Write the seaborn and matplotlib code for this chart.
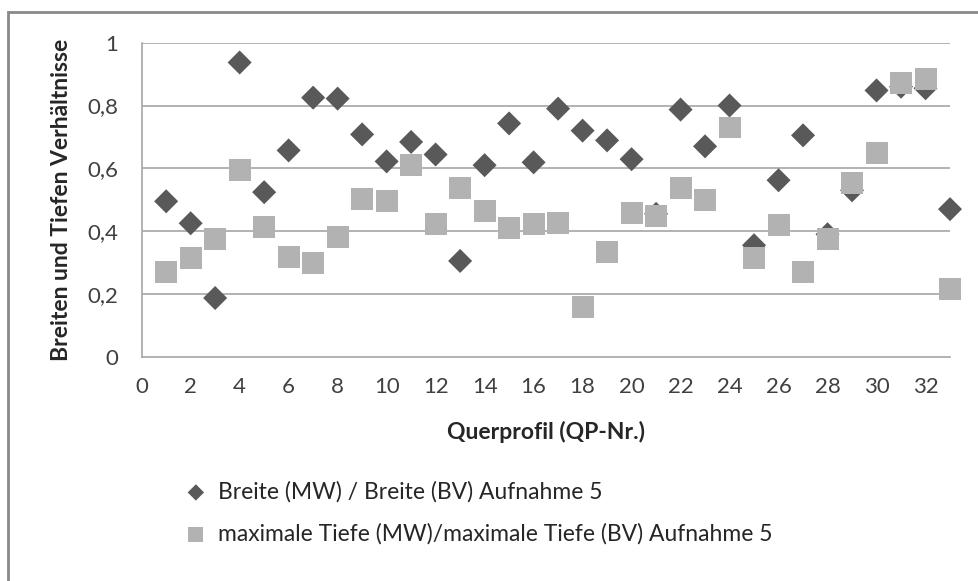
import numpy as np
import pandas as pd
import matplotlib
matplotlib.use("Agg")
import matplotlib.pyplot as plt
import seaborn as sns
from matplotlib.patches import Rectangle

# data
qp_nr = list(range(1, 34))
breite = [0.495, 0.425, 0.187, 0.937, 0.524, 0.657, 0.825, 0.822, 0.708, 0.622,
          0.684, 0.644, 0.305, 0.610, 0.743, 0.619, 0.790, 0.720, 0.689, 0.629,
          0.455, 0.787, 0.670, 0.800, 0.355, 0.562, 0.705, 0.390, 0.530, 0.848,
          0.860, 0.855, 0.470]
tiefe = [0.270, 0.314, 0.375, 0.594, 0.413, 0.317, 0.300, 0.381, 0.502, 0.495,
         0.610, 0.422, 0.536, 0.463, 0.410, 0.422, 0.425, 0.159, 0.333, 0.457,
         0.448, 0.536, 0.498, 0.730, 0.314, 0.419, 0.270, 0.375, 0.552, 0.648,
         0.873, 0.885, 0.216]
label_breite = "Breite (MW) / Breite (BV) Aufnahme 5"
label_tiefe = "maximale Tiefe (MW)/maximale Tiefe (BV) Aufnahme 5"
x_ticks = list(range(0, 33, 2))
y_ticks = [0, 0.2, 0.4, 0.6, 0.8, 1]
y_ticklabels = ["0", "0,2", "0,4", "0,6", "0,8", "1"]

df = pd.DataFrame({"qp": qp_nr, "breite": breite, "tiefe": tiefe})

sns.set_style("white")
plt.rcParams["font.family"] = ["Lato", "DejaVu Sans"]

fig = plt.figure(figsize=(9.79, 5.81), dpi=100)
ax = fig.add_axes([0.1447, 0.386, 0.8257, 0.5405])

grid_col = "#a6a6a6"
for yv in y_ticks[1:]:
    ax.axhline(yv, color=grid_col, lw=1.2, zorder=0)

# squares drawn after diamonds so they cover them, as in the original
sns.scatterplot(data=df, x="qp", y="breite", marker="D", s=150, color="#595959",
                edgecolor="none", ax=ax, label=label_breite, zorder=3, clip_on=False)
sns.scatterplot(data=df, x="qp", y="tiefe", marker="s", s=250, color="#b2b2b2",
                edgecolor="none", ax=ax, label=label_tiefe, zorder=4, clip_on=False)

ax.set_xlim(0, 33)
ax.set_ylim(0, 1)
ax.set_xticks(x_ticks)
ax.set_xticklabels([str(t) for t in x_ticks])
ax.set_yticks(y_ticks)
ax.set_yticklabels(y_ticklabels)

for side in ["top", "right"]:
    ax.spines[side].set_visible(False)
for side in ["left", "bottom"]:
    ax.spines[side].set_color(grid_col)
    ax.spines[side].set_linewidth(1.2)
ax.tick_params(axis="both", colors=grid_col, labelcolor="#404040", labelsize=16,
               direction="out", length=5.8, width=1.2)
ax.tick_params(axis="x", pad=9)
ax.tick_params(axis="y", pad=11)

ax.set_xlabel("Querprofil (QP-Nr.)", fontsize=16.5, fontweight="bold", labelpad=17)
ax.set_ylabel("Breiten und Tiefen Verhältnisse", fontsize=16.5, fontweight="bold", labelpad=11)

ax.legend_.remove()
handles, labels = ax.get_legend_handles_labels()
fig.legend(handles, labels, loc="upper left", bbox_to_anchor=(0.179, 0.188),
           frameon=False, fontsize=16.5, handlelength=1.0, handletextpad=0.45,
           labelspacing=0.9, markerscale=0.68, borderaxespad=0)

# outer chart border (partly cropped off at right and bottom)
fig.patches.append(Rectangle((0.0082, -0.1), 1.2, 1.0793, transform=fig.transFigure,
                             fill=False, edgecolor="#898989", lw=2))

fig.savefig("out.png", dpi=100)
